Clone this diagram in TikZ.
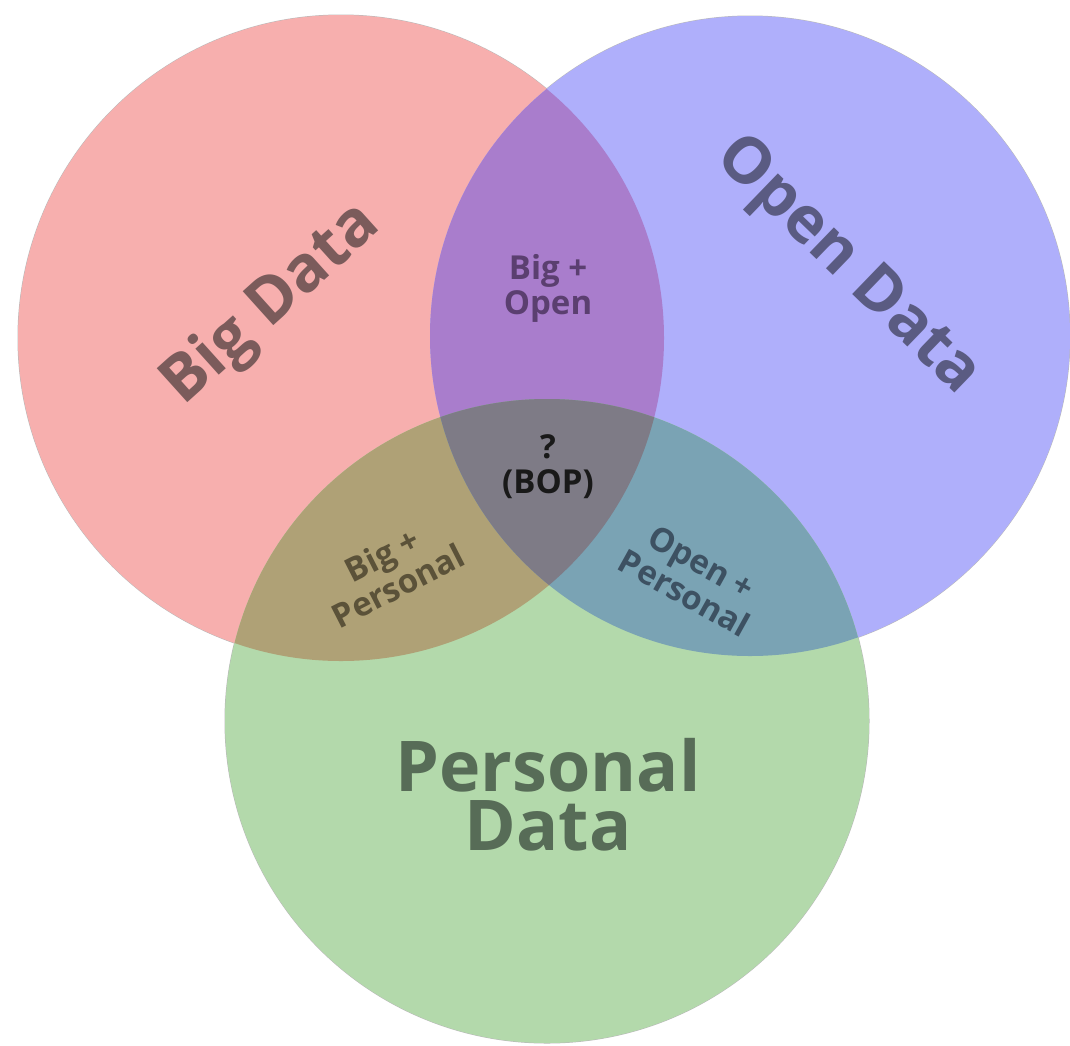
\documentclass[tikz,border=0pt]{standalone}
\usepackage{fontspec}
\setmainfont{Open Sans}
\definecolor{bigred}{HTML}{F7AFAE}
\definecolor{openblue}{HTML}{AFAFFB}
\definecolor{persgreen}{HTML}{B3D9AB}
\definecolor{bigopen}{HTML}{A97DCC}
\definecolor{bigpers}{HTML}{AFA176}
\definecolor{openpers}{HTML}{7AA3B4}
\definecolor{bopgray}{HTML}{7E7B86}
\definecolor{bigtext}{HTML}{7B5B5B}
\definecolor{opentext}{HTML}{5A5B82}
\definecolor{perstext}{HTML}{576C57}
\definecolor{bigopentext}{HTML}{5B3F70}
\definecolor{bigperstext}{HTML}{5B5239}
\definecolor{openperstext}{HTML}{3D5162}

\begin{document}
\begin{tikzpicture}[x=1pt,y=-1pt,
  biglabel/.style={font=\bfseries\fontsize{64}{60}\selectfont,align=center,inner sep=0pt},
  smalllabel/.style={font=\bfseries\fontsize{33}{35}\selectfont,align=center,inner sep=0pt}]
\useasboundingbox (0,0) rectangle (1070,1045);
\fill[white] (0,0) rectangle (1070,1045);
\def\redC{(341,338) circle [radius=323]}
\def\blueC{(750,336) circle [radius=320]}
\def\greenC{(547,721) circle [radius=322]}

%rims, inner parts get covered
\draw[gray!55,line width=1pt] \redC \blueC \greenC;
\fill[bigred] \redC;
\fill[openblue] \blueC;
\fill[persgreen] \greenC;

%overlaps
\begin{scope}
\clip \redC;
\fill[bigopen] \blueC;
\fill[bigpers] \greenC;
\end{scope}
\begin{scope}
\clip \blueC;
\fill[openpers] \greenC;
\end{scope}
\begin{scope}
\clip \redC;
\clip \blueC;
\fill[bopgray] \greenC;
\end{scope}

%labels
\node[biglabel,text=bigtext,rotate=42] (big) at (272,305) {Big Data};
\node[biglabel,text=opentext,rotate=-44] (open) at (847,267) {Open Data};
\node[biglabel,text=perstext,font=\bfseries\fontsize{70}{59}\selectfont] (pers) at (548,795) {Personal\\Data};
\node[smalllabel,text=bigopentext] (bo) at (548,288) {Big +\\Open};
\node[smalllabel,text=black!90] (bop) at (548,467) {?\\(BOP)};
\node[smalllabel,text=bigperstext,rotate=27] (bp) at (390,570) {Big +\\Personal};
\node[smalllabel,text=openperstext,rotate=-29] (op) at (693,578) {Open +\\Personal};
\end{tikzpicture}
\end{document}
